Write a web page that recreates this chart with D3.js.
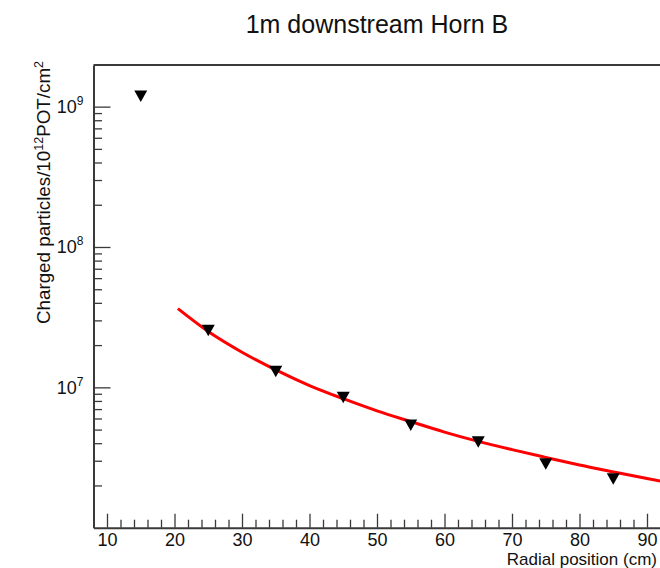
<!DOCTYPE html>
<html>
<head>
<meta charset="utf-8">
<script src="https://cdn.jsdelivr.net/npm/d3@7"></script>
<style>
  html, body { margin: 0; padding: 0; background: #fff; }
  svg { display: block; font-family: "Liberation Sans", Arial, Helvetica, sans-serif; }
</style>
</head>
<body>
<svg id="chart" width="660" height="568"></svg>
<script>
// ---- data ----
const radialPositions = [15, 25, 35, 45, 55, 65, 75, 85];
const chargedParticles = [1.19e9, 2.55e7, 1.30e7, 8.5e6, 5.4e6, 4.1e6, 2.85e6, 2.23e6];

const fitX = [20.5, 25, 30, 35, 40, 45, 50, 55, 60, 65, 70, 75, 80, 85, 90, 92];
const fitY = [3.64e7, 2.50e7, 1.78e7, 1.33e7, 1.03e7, 8.3e6, 6.8e6, 5.7e6, 4.8e6, 4.12e6, 3.6e6, 3.17e6, 2.8e6, 2.5e6, 2.24e6, 2.15e6];

const xMajorTicks = [10, 20, 30, 40, 50, 60, 70, 80, 90];
const xMinorTicks = [12, 14, 16, 18, 22, 24, 26, 28, 32, 34, 36, 38, 42, 44, 46, 48, 52, 54, 56, 58, 62, 64, 66, 68, 72, 74, 76, 78, 82, 84, 86, 88];
const yMajorTicks = [1e7, 1e8, 1e9];
const yMajorExponents = ["7", "8", "9"];
const yMinorTicks = [2e6, 3e6, 4e6, 5e6, 6e6, 7e6, 8e6, 9e6,
                     2e7, 3e7, 4e7, 5e7, 6e7, 7e7, 8e7, 9e7,
                     2e8, 3e8, 4e8, 5e8, 6e8, 7e8, 8e8, 9e8];

const titleText = "1m downstream Horn B";
const xTitle = "Radial position (cm)";

// ---- layout ----
const svg = d3.select("#chart");
const plotLeft = 93.5, plotTop = 65, plotBottom = 527.7;
const x = d3.scaleLinear().domain([8, 92]).range([plotLeft, plotLeft + 84 * 6.75]);
const y = d3.scaleLog().domain([1e6, 1.98e9]).range([plotBottom, plotTop]);

const axisColor = "#3a3a3a";

// frame: top line
svg.append("line")
  .attr("x1", x.range()[0]).attr("x2", x.range()[1])
  .attr("y1", plotTop).attr("y2", plotTop)
  .attr("stroke", axisColor).attr("stroke-width", 2);

// x axis
const gx = svg.append("g").attr("transform", `translate(0,${plotBottom})`);
gx.call(d3.axisBottom(x).tickValues(xMajorTicks).tickSize(-14).tickPadding(6).tickSizeOuter(0)
  .tickFormat(d3.format("d")));
const gxMinor = gx.append("g").call(d3.axisBottom(x).tickValues(xMinorTicks).tickSize(-8).tickSizeOuter(0).tickFormat(""));
gxMinor.select(".domain").remove();
gx.selectAll(".domain").attr("stroke", axisColor).attr("stroke-width", 2);
gx.selectAll(".tick line").attr("stroke", axisColor).attr("stroke-width", 1.3);
gx.selectAll(".tick text").attr("font-size", 18).attr("fill", "#111")
  .attr("font-family", "'Liberation Sans', Arial, Helvetica, sans-serif");

// y axis
const gy = svg.append("g").attr("transform", `translate(${plotLeft},0)`);
gy.call(d3.axisLeft(y).tickValues(yMajorTicks).tickSize(-17).tickSizeOuter(0).tickFormat(""));
const gyMinor = gy.append("g").call(d3.axisLeft(y).tickValues(yMinorTicks).tickSize(-8.5).tickSizeOuter(0).tickFormat(""));
gyMinor.select(".domain").remove();
gy.selectAll(".domain").attr("stroke", axisColor).attr("stroke-width", 2);
gy.selectAll(".tick line").attr("stroke", axisColor).attr("stroke-width", 1.3);

// y tick labels with superscripts
const ylab = svg.append("g").attr("font-size", 18).attr("fill", "#111");
yMajorTicks.forEach((v, i) => {
  const t = ylab.append("text")
    .attr("x", plotLeft - 10).attr("y", y(v) + 6.5)
    .attr("text-anchor", "end");
  t.append("tspan").text("10");
  t.append("tspan").attr("font-size", 12).attr("dy", -8).text(yMajorExponents[i]);
});

// title
svg.append("text")
  .attr("x", 377).attr("y", 33)
  .attr("text-anchor", "middle")
  .attr("font-size", 25).attr("fill", "#111")
  .text(titleText);

// x axis title
svg.append("text")
  .attr("x", 657).attr("y", 565)
  .attr("text-anchor", "end")
  .attr("font-size", 17).attr("fill", "#111")
  .text(xTitle);

// y axis title
const yt = svg.append("text")
  .attr("transform", `translate(50,${plotTop - 4}) rotate(-90)`)
  .attr("text-anchor", "end")
  .attr("font-size", 18.8).attr("fill", "#111");
yt.append("tspan").text("Charged particles/10");
yt.append("tspan").attr("font-size", 12.5).attr("dy", -7.5).text("12");
yt.append("tspan").attr("dy", 7.5).text("POT/cm");
yt.append("tspan").attr("font-size", 12.5).attr("dy", -7.5).text("2");

// fit curve
const line = d3.line().x((d, i) => x(fitX[i])).y(d => y(d)).curve(d3.curveMonotoneX);
svg.append("path")
  .attr("d", line(fitY))
  .attr("fill", "none").attr("stroke", "#ff0000").attr("stroke-width", 3);

// markers (inverted triangles)
const tri = "M-6.5,-5.5L6.5,-5.5L0,6Z";
svg.append("g").selectAll("path")
  .data(chargedParticles)
  .join("path")
  .attr("transform", (d, i) => `translate(${x(radialPositions[i])},${y(d)})`)
  .attr("d", tri)
  .attr("fill", "#000");
</script>
</body>
</html>
